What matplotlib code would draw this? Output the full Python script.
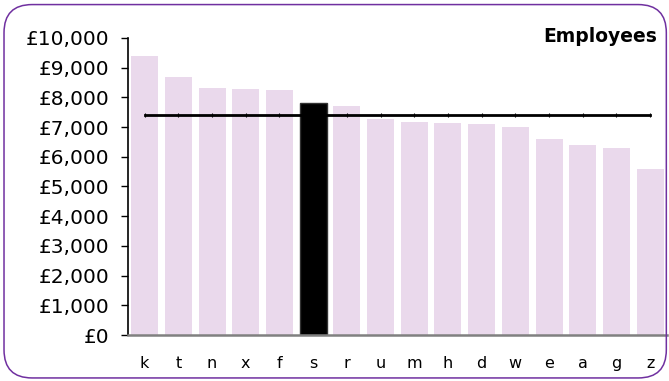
import matplotlib
matplotlib.use('Agg')
import matplotlib.pyplot as plt
from matplotlib.patches import FancyBboxPatch
from matplotlib.ticker import FuncFormatter

categories = ['k', 't', 'n', 'x', 'f', 's', 'r', 'u', 'm', 'h', 'd', 'w', 'e', 'a', 'g', 'z']
values = [9400, 8700, 8330, 8270, 8240, 7800, 7700, 7260, 7160, 7130, 7100, 7000, 6600, 6400, 6300, 5590]
average = [7420] * len(categories)
highlight = 's'

fig = plt.figure(figsize=(6.69, 3.81), dpi=100)
ax = fig.add_axes([0.191, 0.1207, 0.806, 0.7796])

colors = ['black' if c == highlight else '#EAD9EC' for c in categories]
edges = ['#333333' if c == highlight else 'none' for c in categories]
x = range(len(categories))
ax.bar(x, values, width=0.8, color=colors, edgecolor=edges, linewidth=1, zorder=2)
ax.plot(x, average, color='black', linewidth=2, marker='|', markersize=3,
        markeredgewidth=0.8, zorder=3)

ax.set_xlim(-0.5, len(categories) - 0.5)
ax.set_ylim(0, 10000)
ax.set_yticks(range(0, 10001, 1000))
ax.yaxis.set_major_formatter(FuncFormatter(lambda v, p: '£{:,.0f}'.format(v)))
ax.set_xticks(list(x))
ax.set_xticklabels(categories)

for s in ['top', 'right']:
    ax.spines[s].set_visible(False)
ax.spines['left'].set_color('black')
ax.spines['left'].set_linewidth(1.2)
ax.spines['bottom'].set_color('#808080')
ax.spines['bottom'].set_linewidth(1.8)
ax.spines['bottom'].set_zorder(4)
ax.tick_params(axis='y', length=5, width=1, pad=8, labelsize=14.5, colors='black')
ax.tick_params(axis='x', length=0, pad=15, labelsize=11.5)

fig.text(0.982, 0.905, 'Employees', ha='right', va='center', fontsize=13.5, fontweight='bold')

border = FancyBboxPatch((0.006, 0.008), 0.99, 0.98, boxstyle='round,pad=0,rounding_size=0.042',
                        transform=fig.transFigure, facecolor='none', edgecolor='#7030A0',
                        linewidth=1.1, mutation_aspect=669 / 381)
fig.patches.append(border)

fig.savefig('out.png', dpi=100)
